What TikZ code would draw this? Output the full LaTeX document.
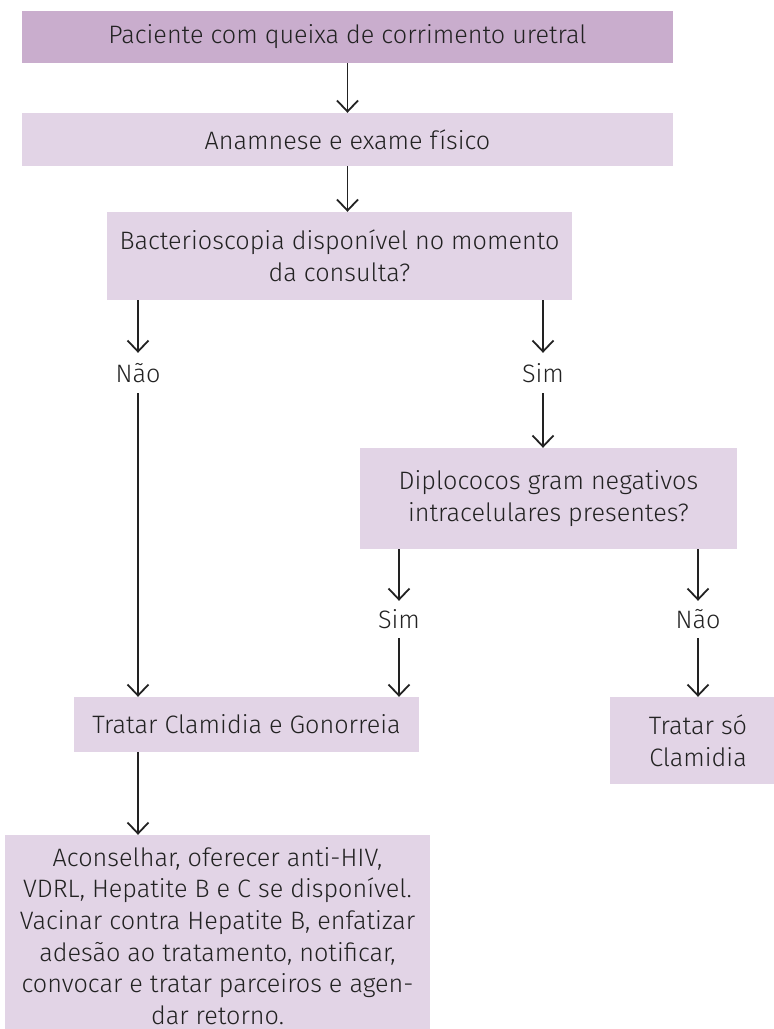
\documentclass[tikz,border=0pt]{standalone}
\usepackage{fontspec}
\setmainfont{Fira Sans Light}
\usetikzlibrary{arrows.meta}
\definecolor{lilasA}{HTML}{C9ADCD}
\definecolor{lilasB}{HTML}{E2D4E6}
\definecolor{tinta}{HTML}{222222}
\begin{document}
\begin{tikzpicture}[x=1pt,y=-1pt,
    caixa/.style={fill=lilasB,align=center,inner sep=0pt,text=tinta,font=\fontsize{25.2}{31.6}\selectfont},
    rotulo/.style={inner sep=0pt,text=tinta,font=\fontsize{25.2}{31.6}\selectfont},
    seta/.style={draw=tinta,line width=1.8pt,-{Straight Barb[length=11pt,width=21pt]}}]
        \useasboundingbox (0,0) rectangle (774,1029);
        \node[caixa,fill=lilasA,minimum width=651pt,minimum height=52pt](pac) at (347.5,37) {Paciente com queixa de corrimento uretral};
        \node[caixa,minimum width=651pt,minimum height=53pt](anam) at (347.5,139.5) {Anamnese e exame físico};
        \node[caixa,minimum width=465pt,minimum height=88pt](bact) at (339.5,256) {Bacterioscopia disponível no momento\\da consulta?};
        \node[rotulo,minimum height=40pt](nao1) at (138,373) {Não};
        \node[rotulo,minimum height=40pt](sim1) at (543,373) {Sim};
        \node[caixa,minimum width=377pt,minimum height=101pt](diplo) at (548.5,498.5) {Diplococos gram negativos\\intracelulares presentes?};
        \node[rotulo,minimum height=37pt](sim2) at (399,619.5) {Sim};
        \node[rotulo,minimum height=37pt](nao2) at (698,619.5) {Não};
        \node[caixa,minimum width=345pt,minimum height=55pt](trat) at (246.5,724.5) {Tratar Clamidia e Gonorreia};
        \node[caixa,minimum width=176pt,minimum height=87pt](so) at (698,740.5) {Tratar só\\Clamidia};
        \node[caixa,minimum width=425pt,minimum height=202pt](acons) at (217.5,936) {Aconselhar, oferecer anti-HIV,\\VDRL, Hepatite B e C se disponível.\\Vacinar contra Hepatite B, enfatizar\\adesão ao tratamento, notificar,\\convocar e tratar parceiros e agen-\\dar retorno.};
        \draw[seta](pac)--(anam);
        \draw[seta](anam)--(anam.south |- bact.north);
        \draw[seta](bact.south -| nao1)--(nao1.north);
        \draw[seta](bact.south -| sim1)--(sim1.north);
        \draw[seta](sim1.south)--(sim1.south |- diplo.north);
        \draw[seta](nao1.south)--(nao1.south |- trat.north);
        \draw[seta](diplo.south -| sim2)--(sim2.north);
        \draw[seta](diplo.south -| nao2)--(nao2.north);
        \draw[seta](sim2.south)--(sim2.south |- trat.north);
        \draw[seta](nao2.south)--(so.north);
        \draw[seta](trat.south -| nao1)--(nao1 |- acons.north);
        \end{tikzpicture}
\end{document}
